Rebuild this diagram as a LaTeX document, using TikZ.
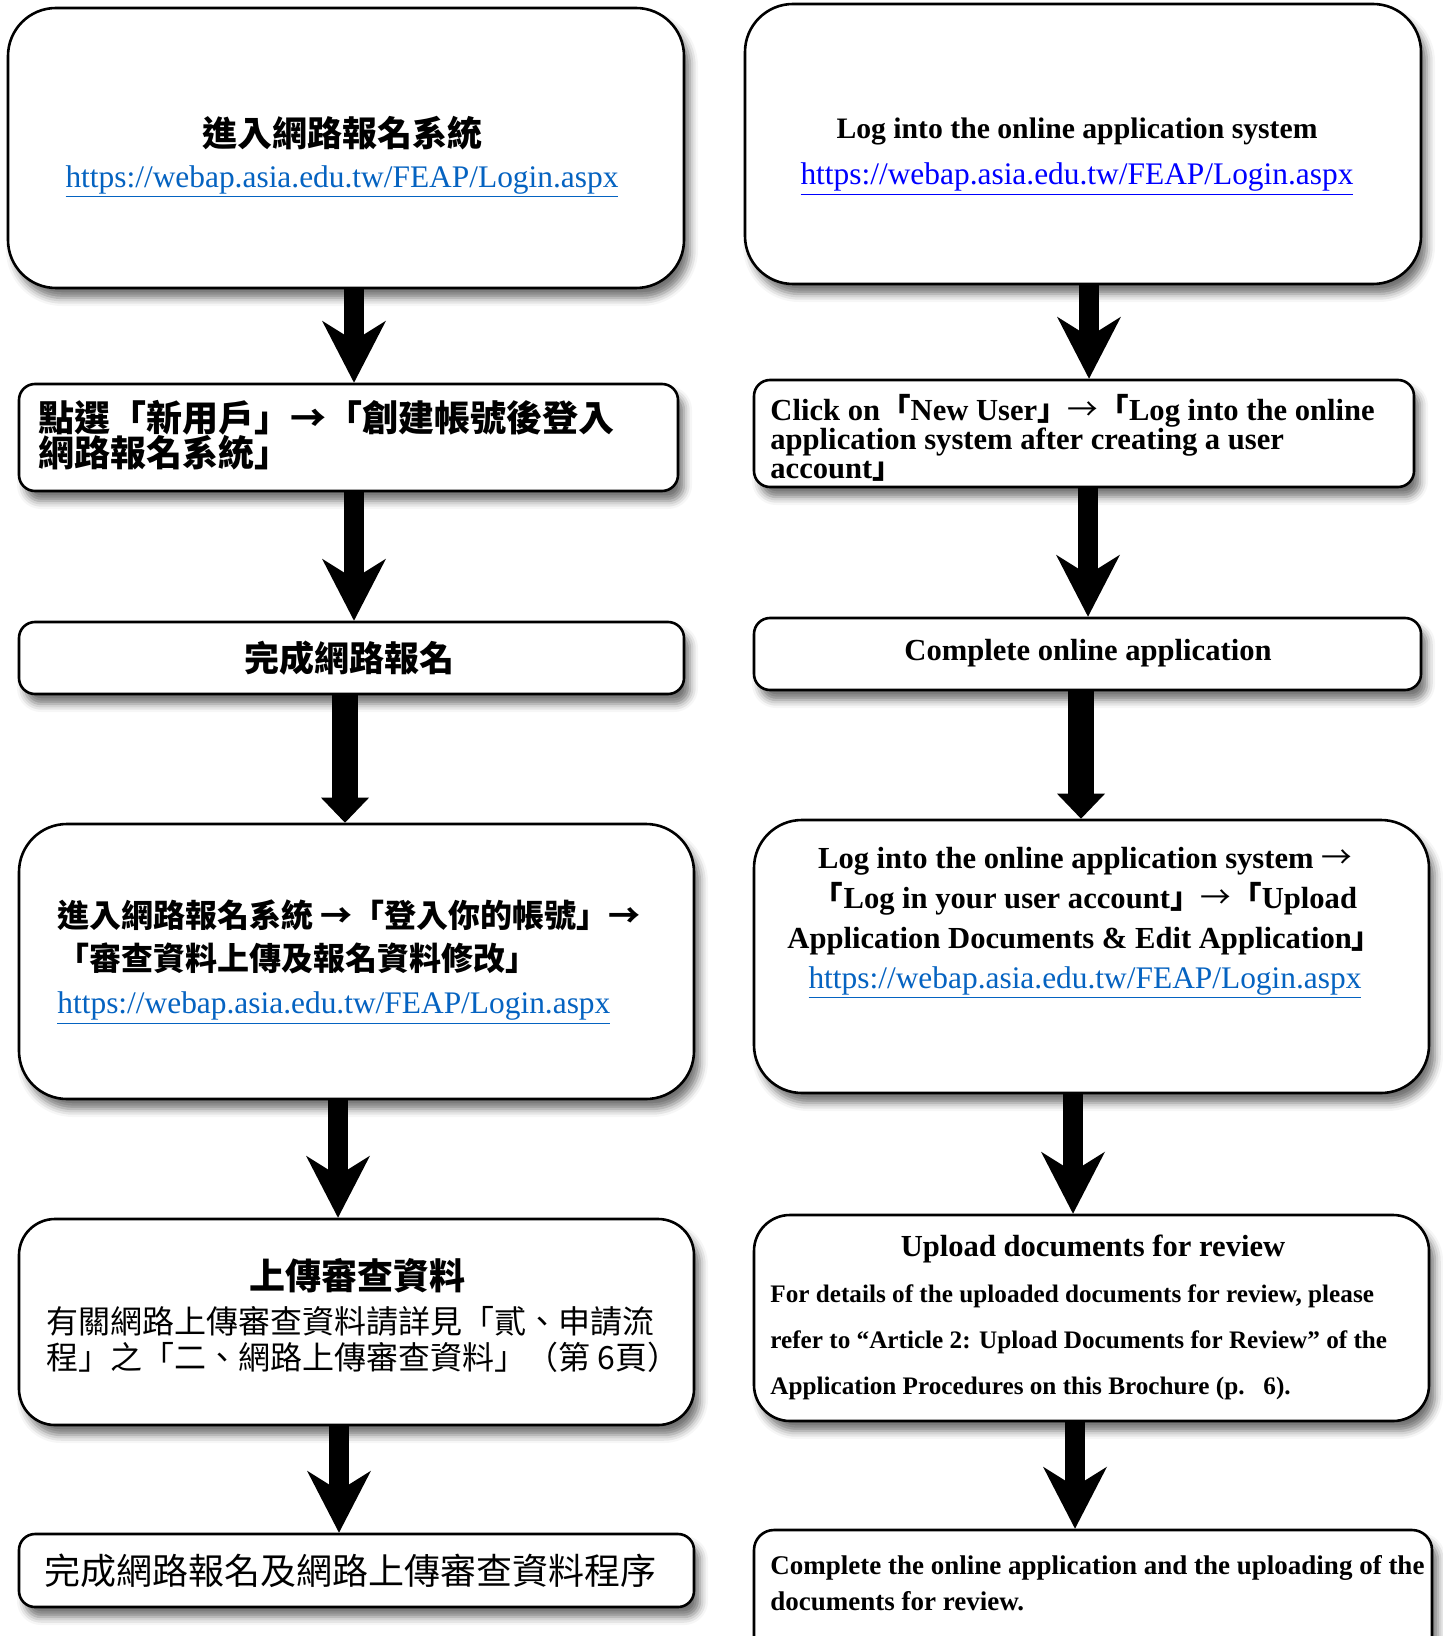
\documentclass[tikz,border=0pt]{standalone}
\usepackage{fontspec}
\setmainfont{Liberation Serif}
\newfontfamily\cjk{Noto Sans CJK TC}
\usetikzlibrary{arrows.meta,shadows.blur}

\definecolor{linkblue}{RGB}{5,99,193}
\newcommand\loginurl[1]{{\rmfamily\mdseries\fontsize{15.7}{18}\selectfont\color{#1}\underline{https://webap.asia.edu.tw/FEAP/Login.aspx}}}
\newcommand\zo{{\cjk 「}}
\newcommand\zc{{\cjk 」}}
\newcommand\za{{\cjk\mdseries →}}

\tikzset{
  box/.style={draw=black, line width=1.3pt, fill=white, rounded corners=#1,
    blur shadow={shadow xshift=3pt, shadow yshift=-5pt, shadow blur radius=4pt, shadow opacity=55}},
  box/.default=8pt,
  en/.style 2 args={inner sep=0pt, font=\bfseries\fontsize{#1}{#2}\selectfont},
  zh/.style 2 args={inner sep=0pt, font=\cjk\bfseries\fontsize{#1}{#2}\selectfont},
  zhr/.style 2 args={inner sep=0pt, font=\cjk\fontsize{#1}{#2}\selectfont},
  flow/.style={line width=10pt, -{Stealth[length=31pt,width=32pt,inset=10pt,line width=0pt]}},
  flowblock/.style={line width=13pt, -{Triangle[length=12.5pt,width=24pt,line width=0pt]}},
}

\begin{document}
\begin{tikzpicture}[x=0.5pt, y=-0.5pt]
\useasboundingbox (0,0) rectangle (1442,1636);

% left column (Chinese)
\node [box=24pt, minimum width=338pt, minimum height=140pt] (L1) at (346,148) {};
\node [box, minimum width=329.5pt, minimum height=53.5pt] (L2) at (348.5,437.5) {};
\node [box, minimum width=332.5pt, minimum height=36pt] (L3) at (351.5,658) {};
\node [box=24pt, minimum width=337.5pt, minimum height=137.5pt] (L4) at (356.5,961.5) {};
\node [box=18pt, minimum width=337.5pt, minimum height=103pt] (L5) at (356.5,1322) {};
\node [box, minimum width=337.5pt, minimum height=36.5pt] (L6) at (356.5,1570.5) {};

% right column (English)
\node [box=24pt, minimum width=338pt, minimum height=140pt] (R1) at (1083,144) {};
\node [box, minimum width=330pt, minimum height=53.5pt] (R2) at (1084,433.5) {};
\node [box, minimum width=333.5pt, minimum height=36pt] (R3) at (1087.5,654) {};
\node [box=24pt, minimum width=337.5pt, minimum height=136.5pt] (R4) at (1091.5,956.5) {};
\node [box=18pt, minimum width=337.5pt, minimum height=103pt] (R5) at (1091.5,1318) {};
\node [box=10pt, minimum width=339pt, minimum height=70pt] (R6) at (1093,1600) {};

% texts
\node [zh={17.5}{20.5}, align=center] (L1t) at (342,157) {進入網路報名系統\\\loginurl{linkblue}};
\node [zh={18}{17.5}, align=left, anchor=west] (L2t) at (38,435.5) {點選「新用戶」→「創建帳號後登入\\網路報名系統」};
\node [zh={17.5}{20}] (L3t) at (349,658) {完成網路報名};
\node [zh={16}{21.5}, align=left, anchor=west] (L4t) at (57,962) {進入網路報名系統 →「登入你的帳號」→\\「審查資料上傳及報名資料修改」\\\loginurl{linkblue}};
\node [zh={18}{20}] (L5t) at (357,1276) {上傳審查資料};
\node [zhr={16}{18}, align=left, anchor=west] (L5b) at (46,1339) {有關網路上傳審查資料請詳見「貳、申請流\\程」之「二、網路上傳審查資料」（第 6頁）};
\node [zhr={18}{20}] (L6t) at (350,1571) {完成網路報名及網路上傳審查資料程序};

\node [en={14.85}{23}, align=center] (R1t) at (1077,157) {Log into the online application system\\\loginurl{blue}};
\node [en={15.3}{14.6}, align=left, anchor=west] (R2t) at (770,438) {Click on\zo New User\zc\za\zo Log into the online\\application system after creating a user\\account\zc};
\node [en={15.3}{17}] (R3t) at (1088,653) {Complete online application};
\node [en={15.3}{20}, align=center] (R4t) at (1085,923) {Log into the online application system \za\\\zo Log in your user account\zc\za\zo Upload\\Application Documents \& Edit Application\zc\\\loginurl{linkblue}};
\node [en={15.3}{17}] (R5t) at (1093,1249) {Upload documents for review};
\node [en={12.6}{23}, align=left, anchor=west] (R5b) at (770,1342) {For details of the uploaded documents for review, please\\refer to “Article 2: Upload Documents for Review” of the\\Application Procedures on this Brochure (p.\ \ \ 6).};
\node [en={13.5}{18}, align=left, anchor=west] (R6t) at (770,1583) {Complete the online application and the uploading of the\\documents for review.};

% arrows
\coordinate (a1) at ([xshift=4pt]L1.south);
\coordinate (a2) at ([xshift=2.75pt]L2.south);
\coordinate (a3) at ([xshift=-3.25pt]L3.south);
\coordinate (a4) at ([xshift=-9.25pt]L4.south);
\coordinate (a5) at ([xshift=-8.75pt]L5.south);
\coordinate (b1) at ([xshift=3pt]R1.south);
\coordinate (b2) at ([xshift=2pt]R2.south);
\coordinate (b3) at ([xshift=-3.25pt]R3.south);
\coordinate (b4) at ([xshift=-9.25pt]R4.south);
\coordinate (b5) at ([xshift=-8.25pt]R5.south);

\draw [flow] (a1) -- (a1 |- L2.north);
\draw [flow] (a2) -- (a2 |- L3.north);
\draw [flowblock] (a3) -- (a3 |- L4.north);
\draw [flow] (a4) -- (a4 |- L5.north);
\draw [flow] (a5) -- (a5 |- L6.north);
\draw [flow] (b1) -- (b1 |- R2.north);
\draw [flow] (b2) -- (b2 |- R3.north);
\draw [flowblock] (b3) -- (b3 |- R4.north);
\draw [flow] (b4) -- (b4 |- R5.north);
\draw [flow] (b5) -- (b5 |- R6.north);

\end{tikzpicture}
\end{document}
